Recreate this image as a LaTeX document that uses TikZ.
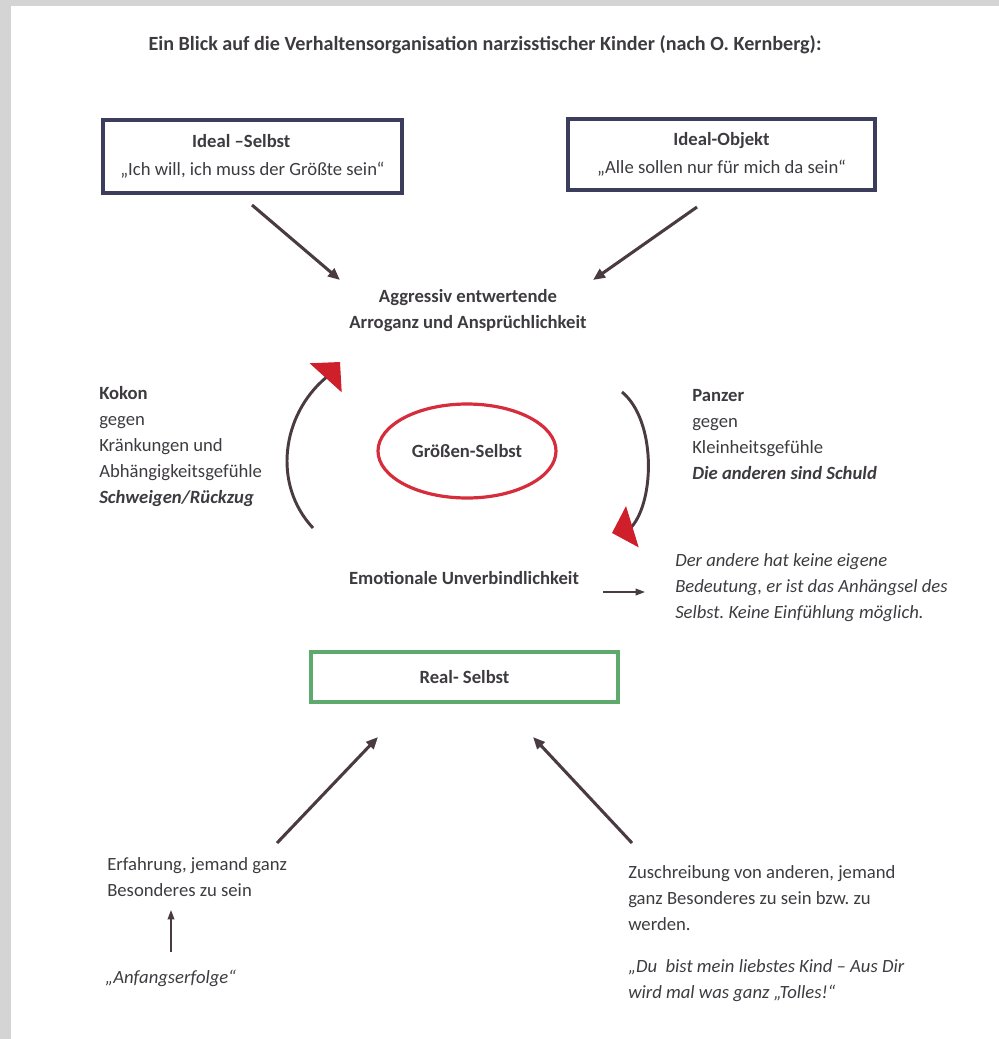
\documentclass[tikz,border=0pt]{standalone}
\usepackage{fontspec}
\setmainfont{Carlito}
\usepackage{xcolor}
\usepackage{tikz}
\usetikzlibrary{arrows.meta, shapes.geometric, positioning}
\frenchspacing

\definecolor{txtgray}{HTML}{3E3B40}
\definecolor{boxblue}{HTML}{3C3C5C}
\definecolor{arrowbrown}{HTML}{4A3A42}
\definecolor{ringred}{HTML}{D62D3C}
\definecolor{headred}{HTML}{CE1F2B}
\definecolor{boxgreen}{HTML}{5DAA6C}
\definecolor{pagegray}{HTML}{D4D4D4}

\begin{document}
\begin{tikzpicture}[
    x=0.75pt, y=-0.75pt,
    every node/.style={text=txtgray, font=\fontsize{14}{19.5}\selectfont},
    txt/.style={align=left, anchor=west, inner sep=0pt},
    box/.style={draw, line width=2.3pt, align=center, inner sep=0pt},
    arrow/.style={-{Triangle[length=9pt, width=7.5pt]}, line width=2.3pt, draw=arrowbrown},
    thin_arrow/.style={-{Triangle[length=7pt, width=5pt]}, line width=1.1pt, draw=arrowbrown},
    loop_arrow/.style={-{Triangle[length=16pt, width=32pt, color=headred]}, line width=2.2pt, draw=arrowbrown}
]
\useasboundingbox (0,0) rectangle (999,1039);

% Page edge
\fill[pagegray] (0,0) rectangle (999,6);
\fill[pagegray] (0,0) rectangle (11,1039);

% Title
\node[font=\fontsize{15.1}{19.5}\selectfont\bfseries] (title) at (485,45) {Ein Blick auf die Verhaltensorganisation narzisstischer Kinder (nach O. Kernberg):};

% Boxes
\node[box, draw=boxblue, minimum width=224.25pt, minimum height=54.75pt] (idealselbst) at (252.5,156.5)
    {\textbf{Ideal –Selbst}\hspace*{1.2em}\\[1.5pt]„Ich will, ich muss der Größte sein“};
\node[box, draw=boxblue, minimum width=230.25pt, minimum height=53.25pt] (idealobjekt) at (721.5,154.5)
    {\textbf{Ideal-Objekt}\\[1.5pt]„Alle sollen nur für mich da sein“};
\node[box, draw=boxgreen, minimum width=230.25pt, minimum height=37.5pt, font=\fontsize{14}{19.5}\selectfont\bfseries] (realselbst) at (464.5,677) {Real- Selbst};

% Center
\node[ellipse, draw=ringred, line width=2.4pt, minimum width=133.5pt, minimum height=70.5pt, font=\fontsize{14}{19.5}\selectfont\bfseries] (groessen) at (467,451) {Größen-Selbst};
\node[align=center, font=\fontsize{14}{19.5}\selectfont\bfseries] (arroganz) at (468,310.5) {Aggressiv entwertende\\Arroganz und Ansprüchlichkeit};
\node[font=\fontsize{14}{19.5}\selectfont\bfseries] (unverbindlich) at (464,578) {Emotionale Unverbindlichkeit};

% Side texts
\node[txt] (kokon) at (99,447) {\textbf{Kokon}\\gegen\\Kränkungen und\\Abhängigkeitsgefühle\\\textbf{\textit{Schweigen/Rückzug}}};
\node[txt] (panzer) at (692,435) {\textbf{Panzer}\\gegen\\Kleinheitsgefühle\\\textbf{\textit{Die anderen sind Schuld}}};
\node[txt, font=\fontsize{14}{19.5}\selectfont\itshape] (anhaengsel) at (675,588) {Der andere hat keine eigene\\Bedeutung, er ist das Anhängsel des\\Selbst. Keine Einfühlung möglich.};

% Bottom texts
\node[txt] (erfahrung) at (107,877) {Erfahrung, jemand ganz\\Besonderes zu sein};
\node[txt, font=\fontsize{14}{19.5}\selectfont\itshape] (anfang) at (105,978) {„Anfangserfolge“};
\node[txt] (zuschreibung) at (628,898) {Zuschreibung von anderen, jemand\\ganz Besonderes zu sein bzw. zu\\werden.};
\node[txt, font=\fontsize{14}{19.5}\selectfont\itshape] (tolles) at (628,981) {„Du\ \ bist mein liebstes Kind – Aus Dir\\wird mal was ganz „Tolles!“};

% Arrow ends
\coordinate (selbst_out) at (252,205);
\coordinate (arroganz_inl) at (340,280);
\coordinate (objekt_out) at (697,207);
\coordinate (arroganz_inr) at (593,280);
\coordinate (unverb_out) at (603,592);
\coordinate (anhaengsel_in) at (645,592);
\coordinate (erfahrung_out) at (277,843);
\coordinate (real_inl) at (378,737);
\coordinate (zuschr_out) at (632,843);
\coordinate (real_inr) at (533,737);
\coordinate (anfang_out) at (171,952);
\coordinate (erfahrung_in) at (171,910);

% Straight arrows
\draw[arrow] (selbst_out) -- (arroganz_inl);
\draw[arrow] (objekt_out) -- (arroganz_inr);
\draw[thin_arrow] (unverb_out) -- (anhaengsel_in);
\draw[arrow] (erfahrung_out) -- (real_inl);
\draw[arrow] (zuschr_out) -- (real_inr);
\draw[thin_arrow] (anfang_out) -- (erfahrung_in);

% Loops round the ellipse
\coordinate (kokon_start) at (313,528);
\coordinate (kokon_end) at (325.5,378);
\coordinate (kokon_tip) at (340,362);
\coordinate (panzer_start) at (622,392);
\coordinate (panzer_end) at (631.5,527);
\coordinate (panzer_tip) at (612,533);
\draw[loop_arrow] (kokon_start) .. controls (272,484) and (282,415) .. (kokon_end) -- (kokon_tip);
\draw[loop_arrow] (panzer_start) .. controls (656,420) and (655,500) .. (panzer_end) -- (panzer_tip);

\end{tikzpicture}
\end{document}
